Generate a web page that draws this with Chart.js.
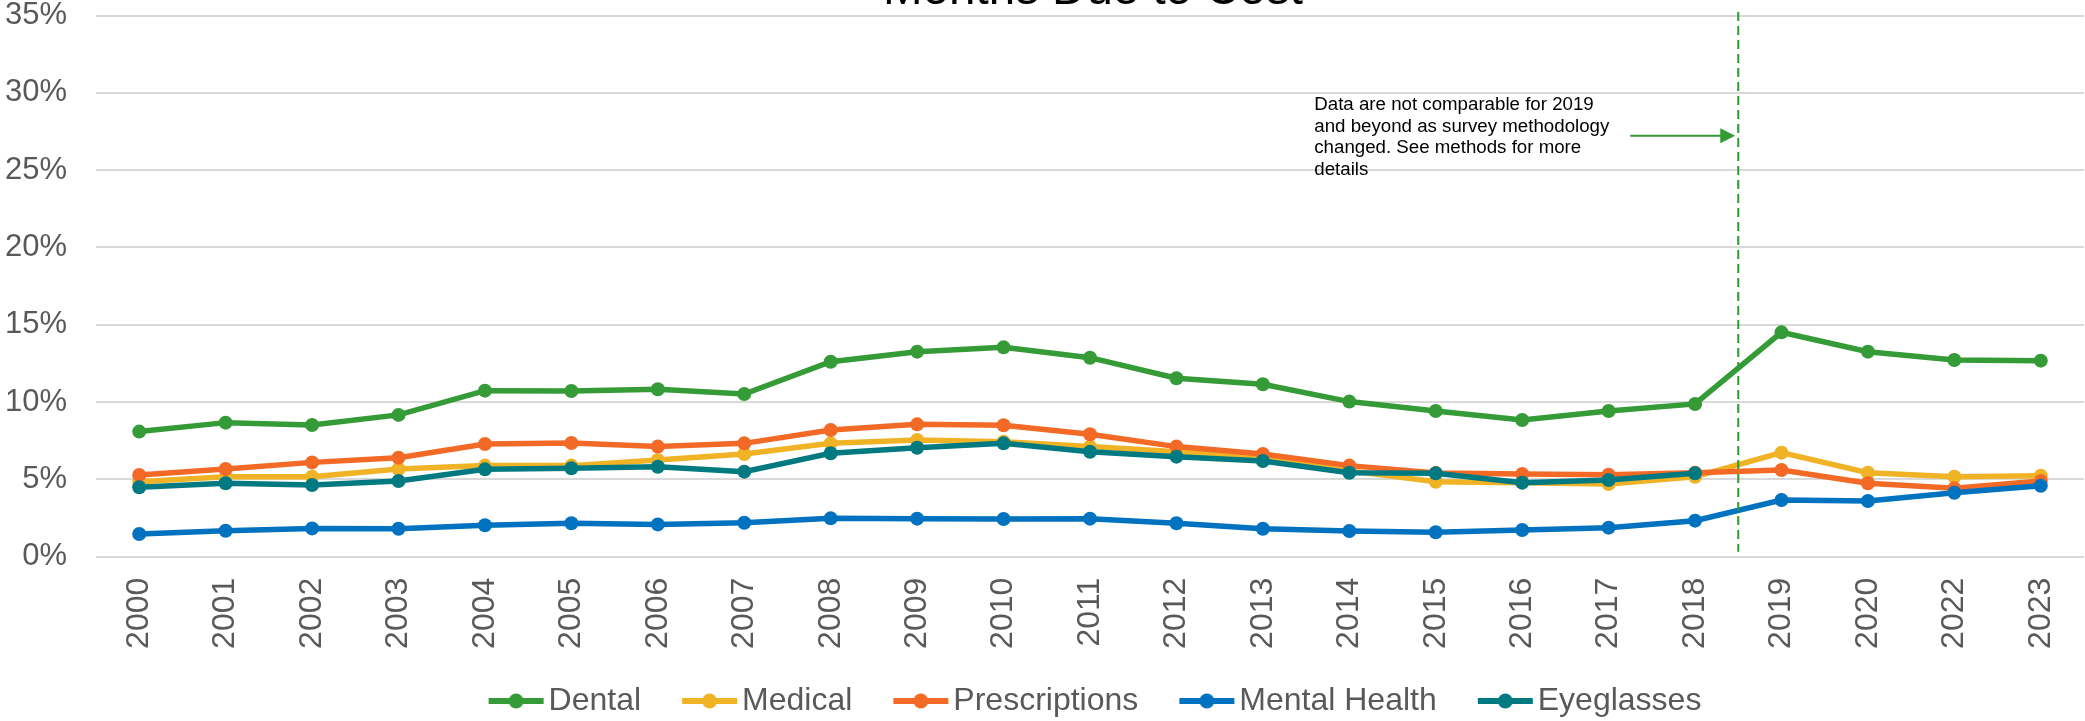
<!DOCTYPE html>
<html>
<head>
<meta charset="utf-8">
<script src="https://cdn.jsdelivr.net/npm/chart.js@4.4.1/dist/chart.umd.min.js"></script>
<style>
html,body{margin:0;padding:0;background:#fff;overflow:hidden}
canvas{display:block}
</style>
</head>
<body>
<canvas id="c" width="2085" height="721"></canvas>
<script>
// ---- data ----
const years = ['2000','2001','2002','2003','2004','2005','2006','2007','2008','2009','2010','2011','2012','2013','2014','2015','2016','2017','2018','2019','2020','2022','2023'];
const dental = [8.09, 8.67, 8.52, 9.17, 10.74, 10.72, 10.83, 10.52, 12.61, 13.26, 13.54, 12.87, 11.54, 11.15, 10.03, 9.42, 8.84, 9.42, 9.88, 14.51, 13.26, 12.72, 12.68];
const medical = [4.85, 5.17, 5.17, 5.67, 5.89, 5.89, 6.25, 6.64, 7.33, 7.55, 7.44, 7.12, 6.79, 6.47, 5.55, 4.85, 4.79, 4.70, 5.17, 6.73, 5.43, 5.17, 5.24];
const prescriptions = [5.28, 5.67, 6.10, 6.40, 7.29, 7.35, 7.12, 7.33, 8.19, 8.56, 8.50, 7.92, 7.12, 6.64, 5.89, 5.41, 5.35, 5.30, 5.43, 5.61, 4.75, 4.42, 4.90];
const mentalHealth = [1.47, 1.68, 1.83, 1.81, 2.03, 2.16, 2.09, 2.20, 2.48, 2.46, 2.44, 2.46, 2.16, 1.81, 1.66, 1.58, 1.73, 1.88, 2.33, 3.67, 3.60, 4.14, 4.59];
const eyeglasses = [4.49, 4.75, 4.64, 4.90, 5.65, 5.72, 5.82, 5.50, 6.69, 7.05, 7.33, 6.79, 6.47, 6.19, 5.43, 5.39, 4.79, 4.96, 5.39, null, null, null, null];
const seriesNames = ['Dental', 'Medical', 'Prescriptions', 'Mental Health', 'Eyeglasses'];
const seriesColors = ['#349B37', '#F1B326', '#F26A26', '#0072C0', '#007A80'];
const yMin = 0, yMax = 35, yStep = 5;
const titleText = 'Months Due to Cost';
const noteLines = ['Data are not comparable for 2019', 'and beyond as survey methodology', 'changed. See methods for more', 'details'];
const breakAfterIndex = 18; // methodology change between 2018 and 2019

// ---- chart ----
const FONT = '"Liberation Sans", Arial, sans-serif';
Chart.defaults.font.family = FONT;

function legendMarker(color) {
  const c = document.createElement('canvas');
  c.width = 130; c.height = 20;
  const g = c.getContext('2d');
  g.strokeStyle = color; g.lineWidth = 6;
  g.beginPath(); g.moveTo(48, 10); g.lineTo(103, 10); g.stroke();
  g.fillStyle = color;
  g.beginPath(); g.arc(75.5, 10, 7.5, 0, Math.PI * 2); g.fill();
  return c;
}
const markers = seriesColors.map(legendMarker);

const allSeries = [dental, medical, prescriptions, mentalHealth, eyeglasses];
const datasets = allSeries.map((d, i) => ({
  label: seriesNames[i],
  data: d,
  borderColor: seriesColors[i],
  backgroundColor: seriesColors[i],
  pointBackgroundColor: seriesColors[i],
  pointBorderWidth: 0,
  pointRadius: 7,
  borderWidth: 5.5,
  tension: 0,
  fill: false,
  order: allSeries.length - i
}));

const notePlugin = {
  id: 'note',
  afterDatasetsDraw(chart) {
    const {ctx, chartArea, scales: {x, y}} = chart;
    const dx = x.getPixelForValue(breakAfterIndex + 0.5);
    ctx.save();
    ctx.strokeStyle = '#2E9B2E';
    ctx.lineWidth = 2;
    ctx.setLineDash([9, 5]);
    ctx.beginPath();
    ctx.moveTo(dx, chartArea.top - 3.5);
    ctx.lineTo(dx, chartArea.bottom - 5);
    ctx.stroke();
    ctx.setLineDash([]);
    const ay = y.getPixelForValue(30) + 43;
    ctx.strokeStyle = '#349B37';
    ctx.fillStyle = '#349B37';
    ctx.lineWidth = 2;
    ctx.beginPath();
    ctx.moveTo(dx - 108, ay);
    ctx.lineTo(dx - 16, ay);
    ctx.stroke();
    ctx.beginPath();
    ctx.moveTo(dx - 3, ay);
    ctx.lineTo(dx - 18, ay - 7.5);
    ctx.lineTo(dx - 18, ay + 7.5);
    ctx.closePath();
    ctx.fill();
    ctx.fillStyle = '#000000';
    ctx.font = '18.7px ' + FONT;
    ctx.textAlign = 'left';
    ctx.textBaseline = 'alphabetic';
    const ty = y.getPixelForValue(30) + 17.1;
    noteLines.forEach((line, i) => ctx.fillText(line, dx - 424, ty + i * 21.7));
    ctx.restore();
  },
  afterDraw(chart) {
    const {ctx, chartArea} = chart;
    ctx.save();
    ctx.fillStyle = '#000000';
    ctx.font = '47.5px ' + FONT;
    ctx.textAlign = 'center';
    ctx.textBaseline = 'alphabetic';
    ctx.fillText(titleText, (chartArea.left + chartArea.right) / 2 + 3, 3.5);
    ctx.restore();
  }
};

new Chart(document.getElementById('c'), {
  type: 'line',
  data: { labels: years, datasets },
  plugins: [notePlugin],
  options: {
    responsive: false,
    devicePixelRatio: 1,
    animation: false,
    layout: { autoPadding: false, padding: { top: 15.5, right: 1, bottom: -6, left: 0 } },
    plugins: {
      title: { display: false },
      tooltip: { enabled: false },
      legend: {
        position: 'bottom',
        fullSize: false,
        labels: {
          usePointStyle: true,
          pointStyleWidth: 54,
          padding: 31,
          color: '#595959',
          font: { size: 32 },
          sort: (a, b) => a.datasetIndex - b.datasetIndex,
          generateLabels(chart) {
            const items = Chart.defaults.plugins.legend.labels.generateLabels(chart);
            items.forEach(it => { it.pointStyle = markers[it.datasetIndex]; });
            return items;
          }
        }
      }
    },
    scales: {
      x: {
        offset: true,
        grid: { display: false, drawTicks: false },
        border: { display: false },
        ticks: {
          autoSkip: false,
          maxRotation: 90,
          minRotation: 90,
          padding: 21,
          color: '#595959',
          font: { size: 32 }
        },
        afterFit(scale) {
          scale.height = 97.3;
          scale.paddingLeft = 0;
          scale.paddingRight = 0;
        }
      },
      y: {
        min: yMin,
        max: yMax,
        grid: { color: '#D9D9D9', lineWidth: 2, drawTicks: false },
        border: { display: false },
        ticks: {
          stepSize: yStep,
          padding: 29,
          color: '#595959',
          font: { size: 31 },
          callback: v => v + '%'
        },
        afterFit(scale) {
          scale.width = 96;
          scale.paddingTop = 0;
          scale.paddingBottom = 0;
        }
      }
    }
  }
});
</script>
</body>
</html>
